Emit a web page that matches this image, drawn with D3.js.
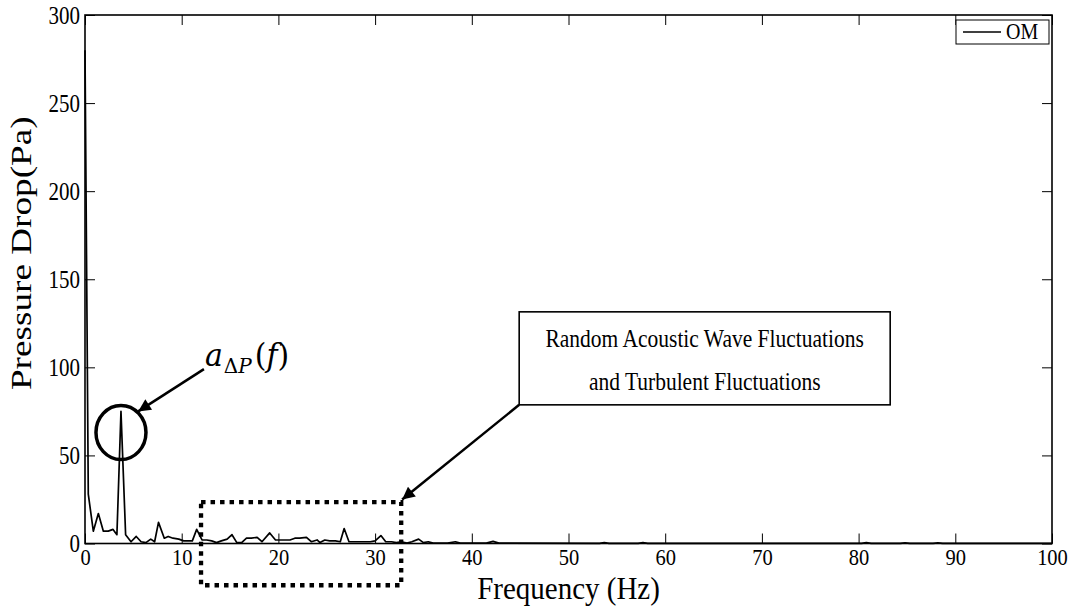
<!DOCTYPE html>
<html>
<head>
<meta charset="utf-8">
<script src="https://cdn.jsdelivr.net/npm/d3@7"></script>
<style>
  body { margin: 0; background: #fff; }
  text { font-family: "Liberation Serif", "Times New Roman", serif; fill: #000; }
  .axis path { display: none; }
  .axis line { stroke: #000; stroke-width: 1; }
</style>
</head>
<body>
<div id="chart"></div>
<script>
// spectrum (Hz, Pa)
var freq = [0, 0.34, 0.86, 1.38, 1.9, 2.4, 2.9, 3.3, 3.72, 4.2, 4.76, 5.3, 5.8, 6.3, 6.8, 7.2, 7.6, 8.2, 8.6, 9.1,
  9.7, 10.2, 10.7, 11.1, 11.55, 12.1, 12.6, 13.1, 13.6, 14.1, 14.7, 15.2, 15.7, 16.2, 16.7, 17.2, 17.8, 18.3, 19.1,
  19.7, 20.2, 20.7, 21.2, 21.7, 22.2, 22.9, 23.4, 24.0, 24.3, 24.8, 25.3, 25.9, 26.4, 26.8, 27.3, 27.9, 28.4, 29.0,
  29.5, 30.0, 30.6, 31.1, 31.7, 32.2, 32.7, 33.3, 33.8, 34.5, 35.0, 35.5, 36.0, 37.5, 38.3, 38.8, 41.5, 42.2, 42.8,
  53.2, 53.7, 54.2, 57.2, 57.7, 58.2, 80.3, 80.8, 81.3, 84.3, 84.8, 85.3, 87.7, 88.2, 88.7, 100];
var pressure = [280, 28, 7, 17, 7, 7, 8, 5, 75, 5, 1, 4, 1, 0.5, 2.5, 1, 12, 3, 4, 3,
  2.5, 1.5, 1.5, 1.5, 8, 2, 2, 1.5, 0.5, 1.5, 2.5, 5, 0.5, 0.5, 3, 3, 3.5, 1, 6,
  2, 2, 2, 2, 3, 3, 3.5, 1, 2, 0.5, 2, 1.5, 1.5, 1, 8.5, 1, 1, 1, 1,
  1, 1.5, 4.5, 1, 1, 0.5, 1, 0.2, 1, 2.5, 0.5, 1, 0.2, 0.2, 1, 0.2, 0.2, 1.2, 0.2,
  0.1, 0.5, 0.1, 0.1, 0.5, 0.1, 0.1, 0.5, 0.1, 0.1, 0.4, 0.1, 0.1, 0.4, 0.1, 0.1];
var xTicks = [0, 10, 20, 30, 40, 50, 60, 70, 80, 90, 100];
var yTicks = [0, 50, 100, 150, 200, 250, 300];
var seriesName = "OM";

var margin = { top: 15, right: 21, bottom: 62.5, left: 85 },
  width = 1073 - margin.left - margin.right,
  height = 606 - margin.top - margin.bottom;

// the original figure is a bit taller than wide in its lettering
var tall = 1.2;

var x = d3.scaleLinear().domain([0, 100]).range([0, width]);
var y = d3.scaleLinear().domain([0, 300]).range([height, 0]);

var svg = d3
  .select("#chart")
  .append("svg")
  .attr("width", 1073)
  .attr("height", 606)
  .append("g")
  .attr("transform", "translate(" + margin.left + "," + margin.top + ")");

function tallText(g, px, py, size, str, k) {
  return g.append("text")
    .attr("transform", "translate(" + px + "," + py + ") scale(1," + (k || tall) + ")")
    .style("font-size", size + "px")
    .text(str);
}

// ticks inward on all four sides, labels only bottom/left
svg.append("g")
  .attr("class", "axis")
  .attr("transform", "translate(0," + height + ")")
  .call(d3.axisBottom(x).tickValues(xTicks).tickSize(-10).tickPadding(4))
  .selectAll("text")
  .style("font-size", "20.5px")
  .attr("transform", "scale(1,1.15)");

svg.append("g")
  .attr("class", "axis")
  .call(d3.axisTop(x).tickValues(xTicks).tickSize(-10).tickFormat(""));

svg.append("g")
  .attr("class", "axis")
  .call(d3.axisLeft(y).tickValues(yTicks).tickSize(-10).tickPadding(5))
  .selectAll("text")
  .style("font-size", "21px")
  .attr("transform", "scale(1," + tall + ")");

svg.append("g")
  .attr("class", "axis")
  .attr("transform", "translate(" + width + ",0)")
  .call(d3.axisRight(y).tickValues(yTicks).tickSize(-10).tickFormat(""));

// the spectrum
svg.append("path")
  .datum(d3.zip(freq, pressure))
  .attr("fill", "none")
  .attr("stroke", "#000")
  .attr("stroke-width", 1.7)
  .attr("stroke-linejoin", "round")
  .attr("d", d3.line()
    .x(function (d) { return x(d[0]); })
    .y(function (d) { return y(d[1]); }));

// frame
svg.append("rect")
  .attr("width", width)
  .attr("height", height)
  .attr("fill", "none")
  .attr("stroke", "#000")
  .attr("stroke-width", 1.6);

// axis titles
tallText(svg, width / 2, height + 55, 29, "Frequency (Hz)", 1.08)
  .style("text-anchor", "middle");

svg.append("text")
  .attr("transform", "translate(-54," + (height / 2 - 26) + ") rotate(-90) scale(1.24,1)")
  .style("text-anchor", "middle")
  .style("font-size", "30px")
  .text("Pressure Drop(Pa)");

// legend
var lg = svg.append("g").attr("transform", "translate(" + (width - 96) + ",5)");
lg.append("rect").attr("width", 93).attr("height", 24)
  .attr("fill", "#fff").attr("stroke", "#000").attr("stroke-width", 1);
lg.append("line").attr("x1", 7).attr("x2", 45).attr("y1", 12).attr("y2", 12)
  .attr("stroke", "#000").attr("stroke-width", 1.5);
tallText(lg, 50, 19, 20, seriesName);

// annotations
var defs = d3.select("svg").append("defs");
defs.append("marker")
  .attr("id", "head")
  .attr("viewBox", "0 0 10 10")
  .attr("refX", 10).attr("refY", 5)
  .attr("markerWidth", 6).attr("markerHeight", 5)
  .attr("markerUnits", "strokeWidth")
  .attr("orient", "auto")
  .append("path").attr("d", "M0,0L10,5L0,10z").attr("fill", "#000");

var peakF = 3.72;
svg.append("ellipse")
  .attr("cx", x(peakF)).attr("cy", y(63))
  .attr("rx", 25).attr("ry", 27)
  .attr("fill", "none").attr("stroke", "#000").attr("stroke-width", 3.5);

svg.append("line")
  .attr("x1", x(12.3)).attr("y1", y(99))
  .attr("x2", x(5.5)).attr("y2", y(75))
  .attr("stroke", "#000").attr("stroke-width", 2.5)
  .attr("marker-end", "url(#head)");

var lab = svg.append("text")
  .attr("transform", "translate(" + x(12.4) + "," + y(101) + ") scale(1,1.05)")
  .style("font-family", "'DejaVu Serif', serif")
  .style("font-size", "30px");
lab.append("tspan").style("font-style", "italic").text("a");
lab.append("tspan").attr("dy", 7).attr("dx", 1).style("font-size", "20px").text("Δ");
lab.append("tspan").style("font-size", "20px").style("font-style", "italic").text("P");
lab.append("tspan").attr("dy", -7).attr("dx", 3).text("(");
lab.append("tspan").style("font-style", "italic").text("f");
lab.append("tspan").text(")");

// dotted box around the broadband region
svg.append("rect")
  .attr("x", x(12)).attr("y", y(23.5))
  .attr("width", x(32.7) - x(12)).attr("height", y(-23.7) - y(23.5))
  .attr("fill", "none").attr("stroke", "#000")
  .attr("stroke-width", 4.3).attr("stroke-dasharray", "4.5,5");

var bx = x(44.9), by = y(131.5), bw = 371, bh = 93;
svg.append("rect")
  .attr("x", bx).attr("y", by).attr("width", bw).attr("height", bh)
  .attr("fill", "#fff").attr("stroke", "#000").attr("stroke-width", 1.6);
tallText(svg, bx + bw / 2, by + 35, 21.5, "Random Acoustic Wave Fluctuations")
  .style("text-anchor", "middle");
tallText(svg, bx + bw / 2, by + 78, 21.5, "and Turbulent Fluctuations")
  .style("text-anchor", "middle");

svg.append("line")
  .attr("x1", bx).attr("y1", by + bh)
  .attr("x2", x(32.8)).attr("y2", y(25))
  .attr("stroke", "#000").attr("stroke-width", 2.5)
  .attr("marker-end", "url(#head)");
</script>
</body>
</html>
